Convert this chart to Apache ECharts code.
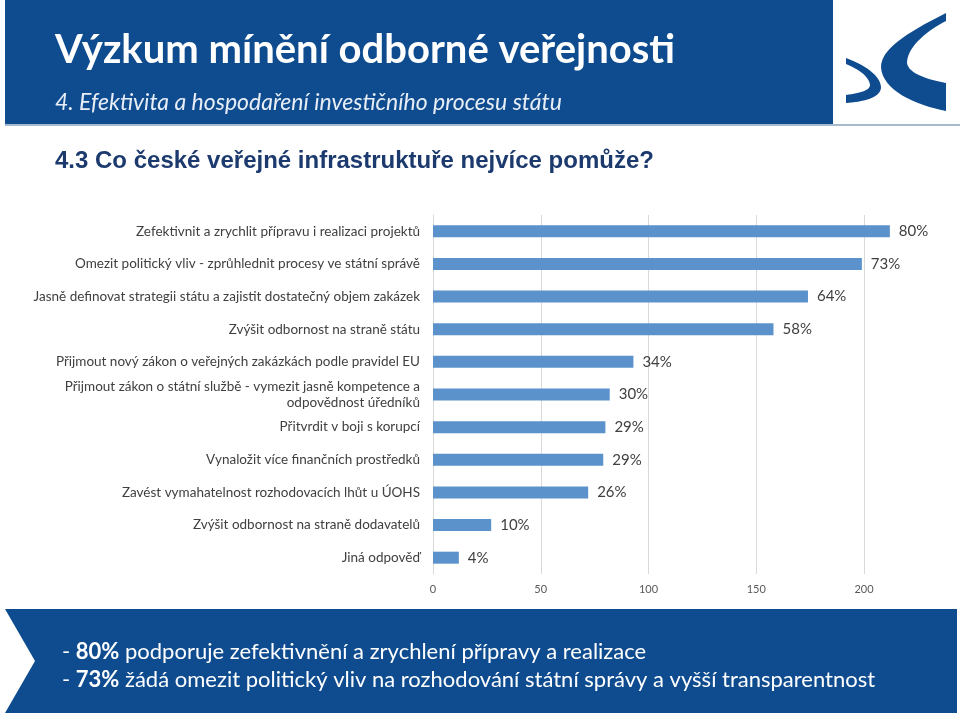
<!DOCTYPE html>
<html>
<head>
<meta charset="utf-8">
<script src="https://cdn.jsdelivr.net/npm/echarts@6/dist/echarts.min.js"></script>
<style>html,body{margin:0;padding:0;background:#fff}#c{width:960px;height:716px}</style>
</head>
<body>
<div id="c"></div>
<script>
const categories = [
  'Zefektivnit a zrychlit přípravu i realizaci projektů',
  'Omezit politický vliv - zprůhlednit procesy ve státní správě',
  'Jasně definovat strategii státu a zajistit dostatečný objem zakázek',
  'Zvýšit odbornost na straně státu',
  'Přijmout nový zákon o veřejných zakázkách podle pravidel EU',
  'Přijmout zákon o státní službě - vymezit jasně kompetence a\nodpovědnost úředníků',
  'Přitvrdit v boji s korupcí',
  'Vynaložit více finančních prostředků',
  'Zavést vymahatelnost rozhodovacích lhůt u ÚOHS',
  'Zvýšit odbornost na straně dodavatelů',
  'Jiná odpověď'
];
const counts = [212, 199, 174, 158, 93, 82, 80, 79, 72, 27, 12];
const percentLabels = ['80%', '73%', '64%', '58%', '34%', '30%', '29%', '29%', '26%', '10%', '4%'];
const xTicks = [0, 50, 100, 150, 200];

const title = 'Výzkum mínění odborné veřejnosti';
const subtitle = '4. Efektivita a hospodaření investičního procesu státu';
const heading = '4.3 Co české veřejné infrastruktuře nejvíce pomůže?';
const footerLines = [
  ['- ', '80%', ' podporuje zefektivnění a zrychlení přípravy a realizace'],
  ['- ', '73%', ' žádá omezit politický vliv na rozhodování státní správy a vyšší transparentnost']
];

const BLUE = '#0e4c8f';
const FONT = 'Lato';

// sample a chain of cubic bezier segments into polygon points (logo decoration)
function bez(start, segs) {
  const pts = [start];
  let p0 = start;
  segs.forEach(s => {
    if (s.length === 1) { pts.push(s[0]); p0 = s[0]; return; }
    const [c1, c2, p3] = s;
    for (let i = 1; i <= 16; i++) {
      const t = i / 16, u = 1 - t;
      pts.push([
        u*u*u*p0[0] + 3*u*u*t*c1[0] + 3*u*t*t*c2[0] + t*t*t*p3[0],
        u*u*u*p0[1] + 3*u*u*t*c1[1] + 3*u*t*t*c2[1] + t*t*t*p3[1]
      ]);
    }
    p0 = p3;
  });
  return pts;
}
const logoC = bez([946,13], [
  [[904,34],[881,50],[881,67]],
  [[882,90],[915,105],[946,111]],
  [[946,83]],
  [[920,78],[907,71],[907,62]],
  [[908,46],[928,30],[946,21]]
]);
const logoS = bez([846,58], [
  [[870,67],[881,78],[881,88]],
  [[880,98],[862,102],[846,103]],
  [[846,95]],
  [[861,93],[870,90],[870,85]],
  [[869,76],[858,69],[846,64]]
]);

const chart = echarts.init(document.getElementById('c'), null, {renderer: 'canvas'});

const footerRich = footerLines.map(l => `{n|${l[0]}}{b|${l[1]}}{n|${l[2]}}`).join('\n');

chart.setOption({
  animation: false,
  backgroundColor: '#fff',
  grid: {left: 433, right: 96, top: 215, height: 359, containLabel: false},
  xAxis: {
    type: 'value', min: xTicks[0], max: xTicks[xTicks.length - 1], interval: 50,
    axisLine: {show: false}, axisTick: {show: false},
    splitLine: {show: true, lineStyle: {color: '#d9d9d9', width: 1}},
    axisLabel: {color: '#595959', fontSize: 11, fontFamily: FONT, margin: 10}
  },
  yAxis: {
    type: 'category', data: categories, inverse: true,
    axisLine: {show: true, lineStyle: {color: '#d9d9d9'}}, axisTick: {show: false},
    axisLabel: {color: '#404040', fontSize: 13.5, fontFamily: FONT, margin: 13, lineHeight: 16, align: 'right'}
  },
  series: [{
    type: 'bar', data: counts, barWidth: 12, clip: false,
    itemStyle: {color: '#5b92cb'},
    label: {
      show: true, position: 'right', distance: 9, color: '#404040', fontSize: 15, fontFamily: FONT,
      formatter: p => percentLabels[p.dataIndex]
    }
  }],
  graphic: [
    {type: 'rect', shape: {x: 5, y: 0, width: 828, height: 124}, style: {fill: BLUE}},
    {type: 'rect', shape: {x: 5, y: 124, width: 955, height: 2}, style: {fill: '#a9b9cd'}},
    {type: 'polygon', shape: {points: logoC}, style: {fill: BLUE}},
    {type: 'polygon', shape: {points: logoS}, style: {fill: BLUE}},
    {type: 'text', left: 55, top: 30, style: {text: title, fill: '#fff', font: 'bold 40px Lato'}},
    {type: 'text', left: 55, top: 91, style: {text: subtitle, fill: '#e8eef6', font: 'italic 23px Lato'}},
    {type: 'text', left: 55, top: 149, style: {text: heading, fill: '#1c3a6e', font: 'bold 24px "Liberation Sans"'}},
    {type: 'polygon', shape: {points: [[5, 609], [957, 609], [957, 713], [5, 713], [35, 661]]}, style: {fill: BLUE}},
    {type: 'text', left: 62, top: 638, style: {
      text: footerRich, lineHeight: 28,
      rich: {
        n: {fill: '#fff', fontSize: 22, fontFamily: FONT, lineHeight: 28},
        b: {fill: '#fff', fontSize: 22, fontFamily: FONT, fontWeight: 'bold', lineHeight: 28}
      }
    }}
  ]
});
</script>
</body>
</html>
